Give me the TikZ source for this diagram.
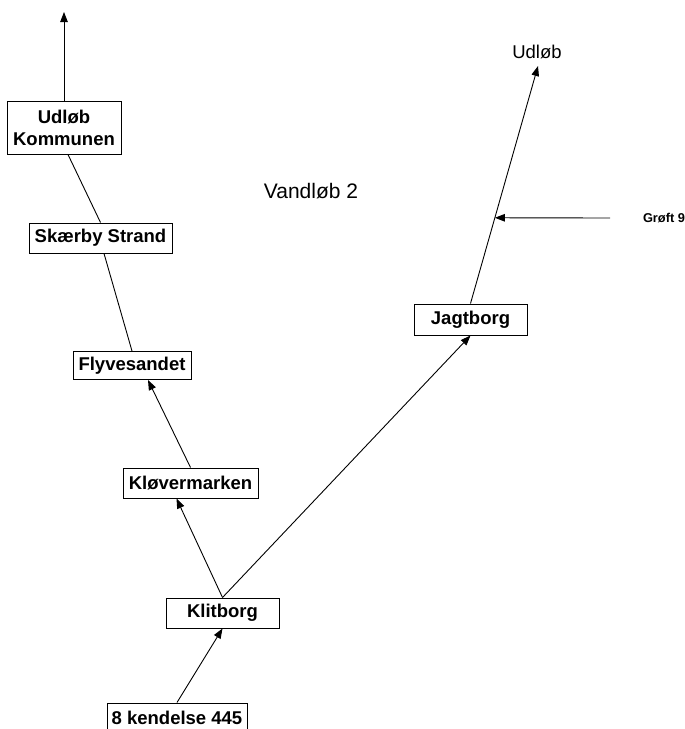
\documentclass[tikz,border=0pt]{standalone}
\usepackage{fontspec}
\setmainfont{Liberation Sans}
\usetikzlibrary{arrows.meta}

\tikzset{
  station/.style={draw,line width=1pt,inner sep=0pt,align=center,
    font=\fontsize{18.5}{22}\selectfont\bfseries},
  flow/.style={line width=0.9pt,-{Triangle[length=10pt,width=7.5pt]}},
  reach/.style={line width=0.9pt}
}

\begin{document}
\begin{tikzpicture}[x=1pt,y=-1pt]
  \useasboundingbox (0,0) rectangle (685,729);
  % stations along the stream
  \node[station,minimum width=114pt,minimum height=53pt] (kommunen) at (64,127.5) {Udløb\\Kommunen};
  \node[station,minimum width=143pt,minimum height=30pt] (skaerby) at (100.5,238) {Skærby Strand};
  \node[station,minimum width=118pt,minimum height=28pt] (flyve) at (132,365.5) {Flyvesandet};
  \node[station,minimum width=135pt,minimum height=30pt] (klover) at (190.5,483) {Kløvermarken};
  \node[station,minimum width=113pt,minimum height=30pt] (klitborg) at (222.5,613) {Klitborg};
  \node[station,minimum width=140pt,minimum height=30pt] (kendelse) at (177,718) {8 kendelse 445};
  \node[station,minimum width=113pt,minimum height=31pt] (jagtborg) at (470.5,319.5) {Jagtborg};
  % free labels
  \node[font=\fontsize{21}{24}\selectfont] (title) at (311,191) {Vandløb 2};
  \node[font=\fontsize{18.5}{22}\selectfont] (udlob) at (537,52) {Udløb};
  \node[font=\fontsize{12.8}{15}\selectfont\bfseries] (groft) at (664,218) {Grøft 9};
  \coordinate (top) at (64,12);
  \coordinate (udlobtip) at (538,66);
  \coordinate (groftend) at (610,218);
  \path (jagtborg.north) -- (udlobtip) coordinate[pos=0.361] (joint);
  % connectors
  \draw[flow] (kommunen.north) -- (top);
  \draw[reach] ([xshift=4pt]kommunen.south) -- (skaerby.north);
  \draw[reach] ([xshift=3.5pt]skaerby.south) -- (flyve.north);
  \draw[flow] (klover.north) -- ([xshift=16pt]flyve.south);
  \draw[flow] (klitborg.north) -- ([xshift=-14pt]klover.south);
  \draw[flow] (klitborg.north) -- (jagtborg.south);
  \draw[flow] (kendelse.north) -- (klitborg.south);
  \draw[flow] (jagtborg.north) -- (udlobtip);
  \draw[flow] (groftend) -- (joint);
\end{tikzpicture}
\end{document}
